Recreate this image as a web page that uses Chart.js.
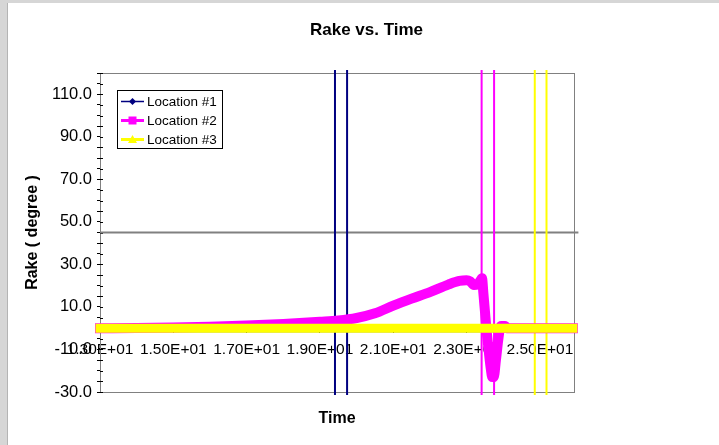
<!DOCTYPE html>
<html lang="en">
<head>
<meta charset="UTF-8">
<title>Rake vs. Time</title>
<script src="https://cdn.jsdelivr.net/npm/chart.js"></script>
<style>
  html, body { margin: 0; padding: 0; background: #fff; }
  #wrap { width: 719px; height: 445px; }
</style>
</head>
<body>
<div id="wrap"><canvas id="rakeChart" width="719" height="445"></canvas></div>
<script>
// time samples (s) shared by the three locations
const timeS = [13.0, 14.0, 15.0, 16.0, 17.0, 18.0, 19.0, 19.5, 20.0, 20.5, 21.0, 21.5, 22.0, 22.5,
               22.8, 23.0, 23.1, 23.2, 23.3, 23.38, 23.42, 23.46, 23.50, 23.54, 23.60, 23.66, 23.70,
               23.74, 23.80, 23.86, 23.91, 23.95, 24.05, 24.1, 24.5, 25.0, 25.5, 25.9];
const location1 = [0, 0, 0, 0, 0, 0, 0, 0, 0, 0, 0, 0, 0, 0, 0, 0, 0, 0, 0, 0, 0, 0, 0, 0, 0, 0, 0,
                   0, 0, 0, 0, 0, 0, 0, 0, 0, 0, 0];
const location2 = [0, 0.1, 0.3, 0.7, 1.3, 2.0, 3.0, 3.6, 4.8, 7.0, 10.6, 13.9, 17.0, 20.5,
                   22.2, 22.6, 22.0, 20.3, 20.5, 22.5, 23.5, 16, 8, 0, -10, -19, -23,
                   -23, -15, -6, 0, 1, 1, 0, 0, 0, 0, 0];
const location3 = [0, 0, 0, 0, 0, 0, 0, 0, 0, 0, 0, 0, 0, 0, 0, 0, 0, 0, 0, 0, 0, 0, 0, 0, 0, 0, 0,
                   0, 0, 0, 0, 0, 0, 0, 0, 0, 0, 0];

// vertical marker lines (pairs per location) and the horizontal reference
const markerTimes  = [19.41, 19.74, 23.41, 23.75, 24.86, 25.18];
const markerColors = ['#000080', '#000080', '#ff00ff', '#ff00ff', '#ffff00', '#ffff00'];
const markerSpan   = [-31.4, 121.4];
const refRake  = 45;
const refTimes = [13.0, 26.05];

// axes
const xTicks = [13, 15, 17, 19, 21, 23, 25];
const xRange = [13, 25.93];
const yTickLabels = [-30, -10, 10, 30, 50, 70, 90, 110];
const yRange = [-30, 120];
const yMinorStep = 5;

const seriesNames  = ['Location #1', 'Location #2', 'Location #3'];
const seriesColors = ['#000080', '#ff00ff', '#ffff00'];
const seriesWidths = [8, 10, 9];

const FONT = '"Liberation Sans", Arial, sans-serif';

function sci(v) {
    let e = Math.floor(Math.log10(Math.abs(v)));
    let m = (v / Math.pow(10, e)).toFixed(2);
    let es = (e < 0 ? '-' : '+') + String(Math.abs(e)).padStart(2, '0');
    return m + 'E' + es;
}

function pts(xs, ys) {
    return xs.map((x, i) => ({ x: x, y: ys[i] }));
}

const datasets = [];
const seriesData = [location1, location2, location3];
for (let i = 0; i < 3; i++) {
    datasets.push({
        label: seriesNames[i],
        data: pts(timeS, seriesData[i]),
        borderColor: seriesColors[i],
        backgroundColor: seriesColors[i],
        borderWidth: seriesWidths[i],
        borderJoinStyle: 'round',
        borderCapStyle: 'square',
        cubicInterpolationMode: 'monotone',
        pointRadius: 0,
        clip: false,
        order: 3 - i
    });
}
markerTimes.forEach((t, i) => {
    datasets.push({
        label: 'marker' + i,
        data: pts([t, t], markerSpan),
        borderColor: markerColors[i],
        borderWidth: 2,
        pointRadius: 0,
        clip: false,
        order: 4
    });
});
datasets.push({
    label: 'ref',
    data: pts(refTimes, [refRake, refRake]),
    borderColor: '#808080',
    borderWidth: 2,
    pointRadius: 0,
    clip: false,
    order: 5
});

// page frame, plot border, titles and the boxed legend
const decor = {
    id: 'decor',
    beforeDraw(chart) {
        const c = chart.ctx;
        c.save();
        c.fillStyle = '#fff';
        c.fillRect(0, 0, chart.width, chart.height);
        c.fillStyle = '#d6d6d6';
        c.fillRect(0, 0, 7, chart.height);
        c.fillRect(0, 0, chart.width, 3);
        c.fillStyle = '#b4b4b4';
        c.fillRect(7, 3, 1, chart.height);
        c.restore();
    },
    beforeDatasetsDraw(chart) {
        const a = chart.chartArea, c = chart.ctx;
        c.save();
        c.strokeStyle = '#808080';
        c.lineWidth = 1;
        c.strokeRect(Math.round(a.left) + 0.5, Math.round(a.top) + 0.5,
                     Math.round(a.right - a.left), Math.round(a.bottom - a.top));
        // y ticks cross the axis a little into the plot
        const ys = chart.scales.y;
        c.strokeStyle = '#000';
        c.beginPath();
        ys.ticks.forEach(t => {
            const py = Math.round(ys.getPixelForValue(t.value)) + 0.5;
            c.moveTo(a.left, py);
            c.lineTo(a.left + 3, py);
        });
        c.stroke();
        c.restore();
    },
    afterDraw(chart) {
        const a = chart.chartArea, c = chart.ctx;
        c.save();
        c.fillStyle = '#000';
        c.textAlign = 'center';
        c.textBaseline = 'middle';
        c.font = 'bold 17px ' + FONT;
        c.fillText('Rake vs. Time', 366.5, 30);
        c.font = 'bold 16px ' + FONT;
        c.fillText('Time', (a.left + a.right) / 2, 419);
        c.save();
        c.translate(33, (a.top + a.bottom) / 2);
        c.rotate(-Math.PI / 2);
        c.fillText('Rake ( degree )', 0, 0);
        c.restore();

        // legend box
        const lx = 117.5, ly = 90.5, lw = 105, lh = 58;
        c.fillStyle = '#fff';
        c.fillRect(lx, ly, lw, lh);
        c.strokeStyle = '#000';
        c.lineWidth = 1;
        c.strokeRect(lx, ly, lw, lh);
        const rows = [101.5, 120.5, 139.5];
        c.font = '13.5px ' + FONT;
        c.textAlign = 'left';
        for (let i = 0; i < 3; i++) {
            const y = rows[i], col = seriesColors[i];
            c.strokeStyle = col;
            c.fillStyle = col;
            c.lineWidth = i === 0 ? 1.5 : 3;
            c.beginPath();
            c.moveTo(121, y);
            c.lineTo(144, y);
            c.stroke();
            c.beginPath();
            if (i === 0) {
                c.moveTo(132.5, y - 3.5); c.lineTo(136, y); c.lineTo(132.5, y + 3.5); c.lineTo(129, y);
            } else if (i === 1) {
                c.rect(128.5, y - 4, 8, 8);
            } else {
                c.moveTo(132.5, y - 4.5); c.lineTo(137, y + 3.5); c.lineTo(128, y + 3.5);
            }
            c.closePath();
            c.fill();
            c.fillStyle = '#000';
            c.fillText(seriesNames[i], 147, y + 0.5);
        }
        c.restore();
    }
};

const ctx = document.querySelector('#rakeChart');
const rakeChart = new Chart(ctx, {
    type: 'line',
    data: { datasets: datasets },
    options: {
        responsive: false,
        animation: false,
        devicePixelRatio: 1,
        layout: { padding: { top: 73, right: 145, bottom: 53, left: 0 } },
        plugins: { legend: { display: false }, tooltip: { enabled: false }, title: { display: false } },
        scales: {
            x: {
                type: 'linear',
                position: { y: 0 },
                min: xRange[0],
                max: xRange[1],
                afterBuildTicks: (s) => { s.ticks = xTicks.map(v => ({ value: v })); },
                ticks: {
                    autoSkip: false, maxRotation: 0, padding: 8,
                    color: '#000', font: { family: FONT, size: 15.5 },
                    callback: (v) => sci(v)
                },
                grid: { drawOnChartArea: false, color: '#000', tickLength: 4 },
                border: { color: '#000', width: 1 }
            },
            y: {
                type: 'linear',
                position: 'left',
                min: yRange[0],
                max: yRange[1],
                afterFit: (s) => { s.width = 100; },
                afterBuildTicks: (s) => {
                    const t = [];
                    for (let v = yRange[0]; v <= yRange[1]; v += yMinorStep) t.push({ value: v });
                    s.ticks = t;
                },
                ticks: {
                    autoSkip: false, padding: 5,
                    color: '#000', font: { family: FONT, size: 16.5 },
                    callback: (v) => yTickLabels.includes(v) ? v.toFixed(1) : ''
                },
                grid: { drawOnChartArea: false, color: '#000', tickLength: 3 },
                border: { color: '#000', width: 1 }
            }
        }
    },
    plugins: [decor]
});
</script>
</body>
</html>
